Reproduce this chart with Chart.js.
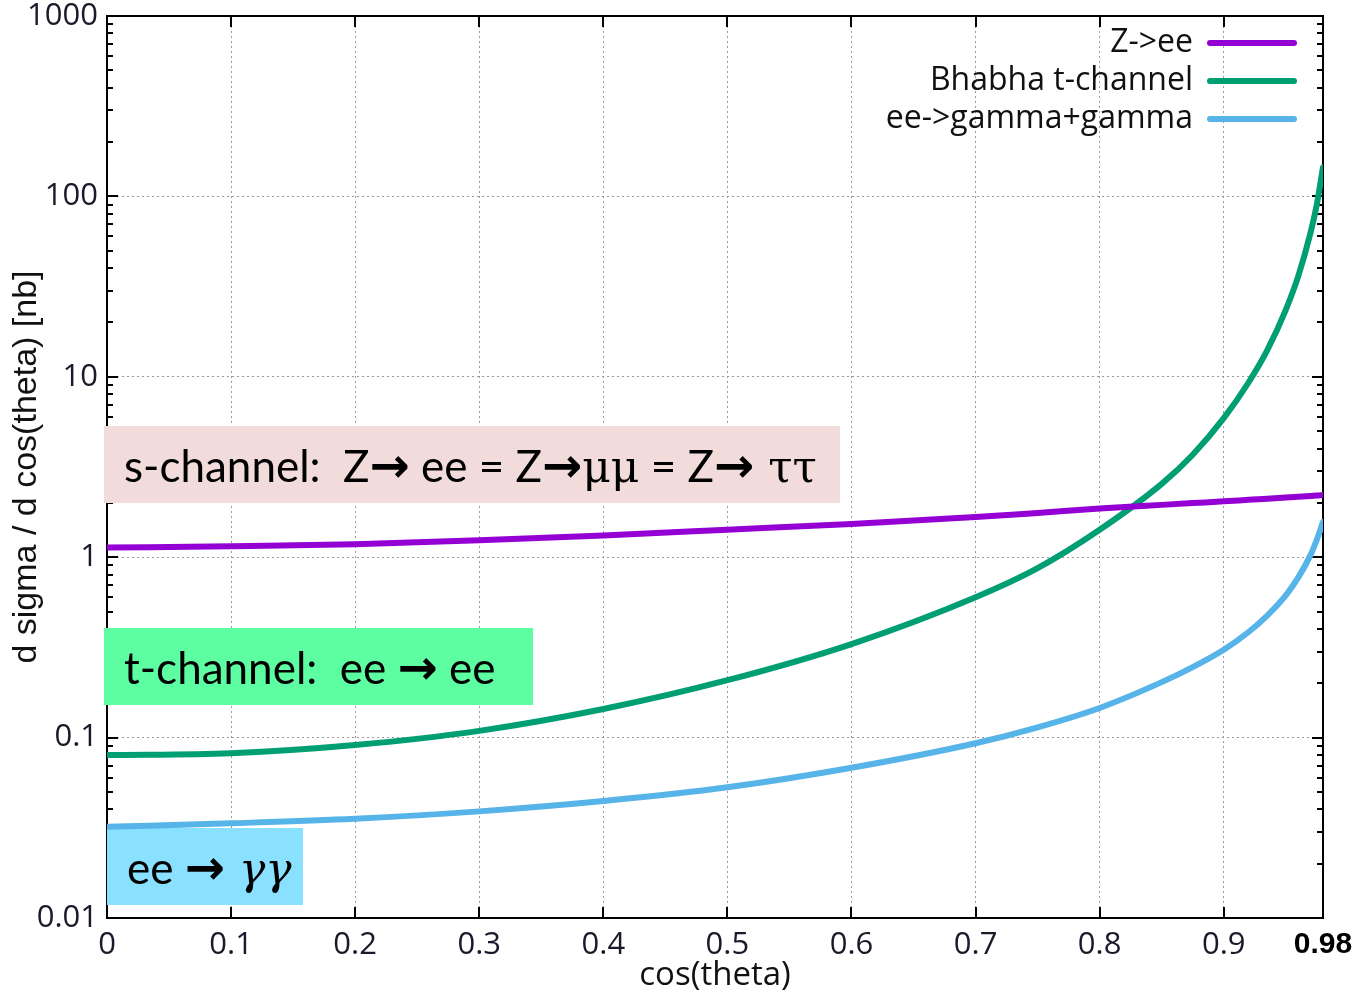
<!DOCTYPE html>
<html>
<head>
<meta charset="utf-8">
<script src="https://cdn.jsdelivr.net/npm/chart.js@4.4.1/dist/chart.umd.min.js"></script>
<style>
  html, body { margin: 0; padding: 0; background: #fff; }
</style>
</head>
<body>
<canvas id="chart" width="1355" height="992"></canvas>
<script>
// values (log y axis, nb)
const cosTheta   = [0, 0.1, 0.2, 0.3, 0.4, 0.5, 0.6, 0.7, 0.75, 0.8, 0.85, 0.875, 0.9, 0.92, 0.935, 0.95, 0.96, 0.97, 0.975, 0.98];
const zee        = [1.13, 1.15, 1.18, 1.24, 1.32, 1.42, 1.53, 1.67, 1.76, 1.86, 1.95, 1.995, 2.04, 2.08, 2.11, 2.14, 2.16, 2.185, 2.2, 2.21];
const bhabha     = [0.080, 0.082, 0.091, 0.109, 0.144, 0.208, 0.33, 0.60, 0.87, 1.42, 2.55, 3.7, 5.9, 9.3, 14, 23.5, 36, 63, 90, 145];
const gammagamma = [0.032, 0.0335, 0.0355, 0.039, 0.0445, 0.053, 0.068, 0.093, 0.114, 0.146, 0.203, 0.246, 0.307, 0.385, 0.475, 0.615, 0.77, 1.03, 1.25, 1.57];

const seriesLabels = ['Z->ee', 'Bhabha t-channel', 'ee->gamma+gamma'];
const seriesColors = ['#9400d3', '#009e73', '#56b4e9'];

const xTicks = [0, 0.1, 0.2, 0.3, 0.4, 0.5, 0.6, 0.7, 0.8, 0.9, 0.98];
const yTicks = [0.01, 0.1, 1, 10, 100, 1000];
const yTickLabels = ['0.01', '0.1', '1', '10', '100', '1000'];

const TICK_FONT = 'Open Sans';
const BOX_FONT = 'Lato';

function pts(ys) {
    return cosTheta.map((x, i) => ({ x: x, y: ys[i] }));
}

function drawRuns(ctx, runs, x, y) {
    runs.forEach(r => {
        ctx.font = r.f;
        ctx.fillText(r.t, x, y);
        x += ctx.measureText(r.t).width;
    });
}

// frame + inward tick marks, gnuplot style
const framePlugin = {
    id: 'frame',
    beforeDatasetsDraw(chart) {
        const ctx = chart.ctx;
        const a = chart.chartArea;
        const xs = chart.scales.x, ys = chart.scales.y;
        ctx.save();
        ctx.strokeStyle = '#000';
        ctx.lineWidth = 2;
        ctx.beginPath();
        xTicks.slice(1, -1).forEach(v => {
            const px = Math.round(xs.getPixelForValue(v));
            ctx.moveTo(px, a.bottom); ctx.lineTo(px, a.bottom - 11);
            ctx.moveTo(px, a.top); ctx.lineTo(px, a.top + 11);
        });
        yTicks.forEach((d, i) => {
            const py = Math.round(ys.getPixelForValue(d));
            ctx.moveTo(a.left, py); ctx.lineTo(a.left + 11, py);
            ctx.moveTo(a.right, py); ctx.lineTo(a.right - 11, py);
            if (i === yTicks.length - 1) return;
            for (let m = 2; m <= 9; m++) {
                const pm = Math.round(ys.getPixelForValue(d * m));
                ctx.moveTo(a.left, pm); ctx.lineTo(a.left + 6, pm);
                ctx.moveTo(a.right, pm); ctx.lineTo(a.right - 6, pm);
            }
        });
        ctx.stroke();
        ctx.strokeRect(a.left, a.top, a.right - a.left, a.bottom - a.top);

        // label boxes
        ctx.textBaseline = 'alphabetic';
        ctx.fillStyle = '#f2dcdb';
        ctx.fillRect(104, 426, 736, 77);
        ctx.fillStyle = '#5dfda2';
        ctx.fillRect(104, 628, 429, 77);
        ctx.fillStyle = '#8ae0ff';
        ctx.fillRect(107, 828, 196, 77);

        ctx.fillStyle = '#000';
        const base = '44px ' + BOX_FONT;
        const arrow = 'bold 48px "DejaVu Sans"';
        const greek = '44px "DejaVu Serif"';
        drawRuns(ctx, [
            { t: 's-channel:  Z', f: base }, { t: '\u2192', f: arrow },
            { t: ' ee = Z', f: base }, { t: '\u2192', f: arrow },
            { t: '\u03bc\u03bc', f: greek }, { t: ' = Z', f: base },
            { t: '\u2192', f: arrow }, { t: ' \u03c4\u03c4', f: greek }
        ], 124, 482);
        drawRuns(ctx, [
            { t: 't-channel:  ee ', f: base }, { t: '\u2192', f: arrow },
            { t: ' ee', f: base }
        ], 124, 684);
        drawRuns(ctx, [
            { t: 'ee ', f: base }, { t: '\u2192', f: arrow },
            { t: ' \u03b3\u03b3', f: 'italic ' + greek }
        ], 127, 884);
        ctx.restore();
    },
    afterDatasetsDraw(chart) {
        // legend, text on the left and line sample on the right
        const ctx = chart.ctx;
        ctx.save();
        ctx.font = '32px ' + TICK_FONT;
        ctx.textAlign = 'right';
        ctx.textBaseline = 'middle';
        chart.data.datasets.forEach((ds, i) => {
            const y = 43 + i * 38;
            ctx.fillStyle = '#111';
            ctx.fillText(ds.label, 1193, y);
            ctx.strokeStyle = ds.borderColor;
            ctx.lineWidth = 6;
            ctx.lineCap = 'round';
            ctx.beginPath();
            ctx.moveTo(1210, y);
            ctx.lineTo(1294, y);
            ctx.stroke();
        });
        ctx.restore();
    }
};

const datasets = [zee, bhabha, gammagamma].map((ys, i) => ({
    label: seriesLabels[i],
    data: pts(ys),
    borderColor: seriesColors[i],
    backgroundColor: seriesColors[i],
    borderWidth: 6,
    borderCapStyle: 'round',
    pointRadius: 0,
    cubicInterpolationMode: 'monotone',
    fill: false
}));

const config = {
    type: 'line',
    data: { datasets: datasets },
    options: {
        responsive: false,
        animation: false,
        layout: { padding: { top: 16, right: 32, left: 0, bottom: 0 } },
        plugins: {
            legend: { display: false },
            tooltip: { enabled: false }
        },
        scales: {
            x: {
                type: 'linear',
                min: 0,
                max: 0.98,
                afterBuildTicks: s => { s.ticks = xTicks.map(v => ({ value: v })); },
                afterFit: s => { s.height = 74; s.paddingLeft = 0; s.paddingRight = 0; },
                grid: {
                    drawTicks: false,
                    color: c => (c.tick && (c.tick.value === 0 || c.tick.value === 0.98)) ? 'rgba(0,0,0,0)' : '#9a9a9a',
                    lineWidth: 1
                },
                border: { display: false, dash: [2, 3] },
                ticks: {
                    padding: 9,
                    autoSkip: false,
                    maxRotation: 0,
                    color: c => c.tick.value === 0.98 ? '#000' : '#1a1a2a',
                    font: c => c.tick && c.tick.value === 0.98
                        ? { family: 'Liberation Sans', size: 30, weight: 'bold' }
                        : { family: TICK_FONT, size: 31 },
                    callback: v => v === 0 ? '0' : (v === 0.98 ? '0.98' : v.toFixed(1))
                },
                title: {
                    display: true,
                    text: 'cos(theta)',
                    color: '#111',
                    font: { family: TICK_FONT, size: 33, lineHeight: 1 },
                    padding: { top: 0, bottom: 0 }
                }
            },
            y: {
                type: 'logarithmic',
                min: 0.01,
                max: 1000,
                afterBuildTicks: s => { s.ticks = yTicks.map(v => ({ value: v })); },
                afterFit: s => { s.width = 107; s.paddingTop = 0; s.paddingBottom = 0; },
                grid: {
                    drawTicks: false,
                    color: c => (c.tick && (c.tick.value === 0.01 || c.tick.value === 1000)) ? 'rgba(0,0,0,0)' : '#9a9a9a',
                    lineWidth: 1
                },
                border: { display: false, dash: [2, 3] },
                ticks: {
                    padding: 9,
                    color: '#1a1a2a',
                    font: { family: TICK_FONT, size: 31 },
                    callback: v => {
                        const i = yTicks.indexOf(v);
                        return i >= 0 ? yTickLabels[i] : '';
                    }
                },
                title: {
                    display: true,
                    text: 'd sigma / d cos(theta) [nb]',
                    color: '#111',
                    font: { family: 'Liberation Sans', size: 34, lineHeight: 1 },
                    padding: { top: 10, bottom: 0 }
                }
            }
        }
    },
    plugins: [framePlugin]
};

const ctx = document.getElementById('chart').getContext('2d');
const myChart = new Chart(ctx, config);
</script>
</body>
</html>
